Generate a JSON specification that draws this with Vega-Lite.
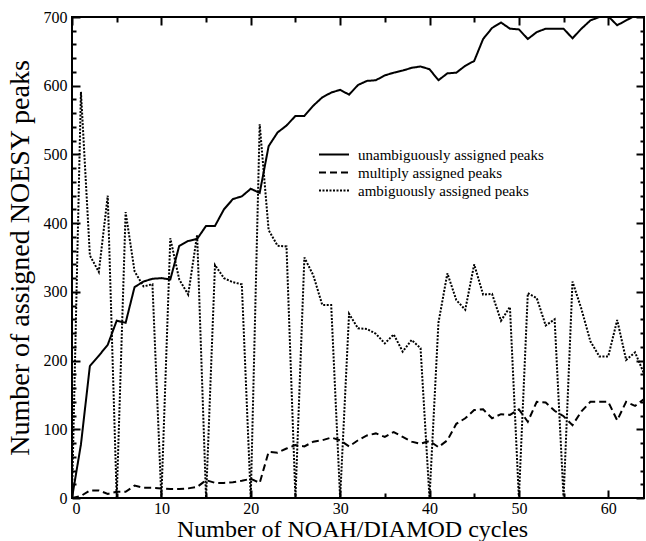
{
  "$schema": "https://vega.github.io/schema/vega-lite/v6.json",
  "width": 572,
  "height": 481,
  "autosize": {"type": "none"},
  "padding": {"left": 72, "top": 17, "right": 2, "bottom": 43},
  "background": "white",
  "config": {
    "view": {"stroke": "black", "strokeWidth": 2},
    "font": "Liberation Serif",
    "axis": {"grid": false, "domain": false, "tickColor": "black", "labelColor": "black", "titleColor": "black", "labelFont": "Liberation Serif", "titleFont": "Liberation Serif", "titleFontWeight": "normal", "labelFontSize": 16, "titleFontSize": 22}
  },
  "data": {"values": [
    {"cycle":0,"u":0,"m":0,"a":0},
    {"cycle":1,"u":78,"m":3,"a":591},
    {"cycle":2,"u":192,"m":11,"a":353},
    {"cycle":3,"u":207,"m":11,"a":329},
    {"cycle":4,"u":223,"m":6,"a":440},
    {"cycle":5,"u":258,"m":9,"a":0},
    {"cycle":6,"u":255,"m":9,"a":416},
    {"cycle":7,"u":307,"m":18,"a":330},
    {"cycle":8,"u":315,"m":15,"a":308},
    {"cycle":9,"u":319,"m":15,"a":311},
    {"cycle":10,"u":320,"m":14,"a":0},
    {"cycle":11,"u":318,"m":13,"a":378},
    {"cycle":12,"u":367,"m":13,"a":318},
    {"cycle":13,"u":374,"m":14,"a":296},
    {"cycle":14,"u":377,"m":16,"a":383},
    {"cycle":15,"u":396,"m":26,"a":0},
    {"cycle":16,"u":396,"m":22,"a":339},
    {"cycle":17,"u":420,"m":22,"a":320},
    {"cycle":18,"u":435,"m":23,"a":314},
    {"cycle":19,"u":439,"m":25,"a":311},
    {"cycle":20,"u":450,"m":28,"a":0},
    {"cycle":21,"u":444,"m":22,"a":544},
    {"cycle":22,"u":512,"m":67,"a":390},
    {"cycle":23,"u":532,"m":66,"a":367},
    {"cycle":24,"u":542,"m":72,"a":366},
    {"cycle":25,"u":556,"m":77,"a":0},
    {"cycle":26,"u":556,"m":75,"a":350},
    {"cycle":27,"u":571,"m":82,"a":324},
    {"cycle":28,"u":583,"m":84,"a":281},
    {"cycle":29,"u":590,"m":88,"a":281},
    {"cycle":30,"u":594,"m":84,"a":0},
    {"cycle":31,"u":587,"m":75,"a":268},
    {"cycle":32,"u":601,"m":84,"a":247},
    {"cycle":33,"u":607,"m":91,"a":246},
    {"cycle":34,"u":608,"m":94,"a":239},
    {"cycle":35,"u":615,"m":89,"a":225},
    {"cycle":36,"u":619,"m":96,"a":238},
    {"cycle":37,"u":622,"m":89,"a":213},
    {"cycle":38,"u":626,"m":82,"a":230},
    {"cycle":39,"u":628,"m":79,"a":218},
    {"cycle":40,"u":624,"m":83,"a":0},
    {"cycle":41,"u":608,"m":74,"a":255},
    {"cycle":42,"u":618,"m":84,"a":327},
    {"cycle":43,"u":619,"m":108,"a":288},
    {"cycle":44,"u":629,"m":116,"a":274},
    {"cycle":45,"u":636,"m":128,"a":340},
    {"cycle":46,"u":668,"m":129,"a":296},
    {"cycle":47,"u":684,"m":116,"a":297},
    {"cycle":48,"u":692,"m":122,"a":258},
    {"cycle":49,"u":683,"m":121,"a":278},
    {"cycle":50,"u":682,"m":129,"a":0},
    {"cycle":51,"u":668,"m":111,"a":298},
    {"cycle":52,"u":678,"m":140,"a":291},
    {"cycle":53,"u":683,"m":139,"a":251},
    {"cycle":54,"u":683,"m":127,"a":260},
    {"cycle":55,"u":683,"m":119,"a":0},
    {"cycle":56,"u":669,"m":106,"a":315},
    {"cycle":57,"u":683,"m":126,"a":275},
    {"cycle":58,"u":695,"m":140,"a":228},
    {"cycle":59,"u":700,"m":140,"a":206},
    {"cycle":60,"u":701,"m":140,"a":206},
    {"cycle":61,"u":688,"m":113,"a":259},
    {"cycle":62,"u":695,"m":140,"a":201},
    {"cycle":63,"u":702,"m":134,"a":212},
    {"cycle":64,"u":706,"m":144,"a":181}
  ]},
  "transform": [{"fold": ["u", "m", "a"], "as": ["type", "peaks"]}],
  "layer": [
    {
      "mark": {"type": "line", "color": "black", "clip": true},
      "encoding": {
        "x": {"field": "cycle", "type": "quantitative",
          "scale": {"domain": [0, 64], "nice": false, "zero": false},
          "axis": {"orient": "bottom", "title": "Number of NOAH/DIAMOD cycles", "titleFontSize": 24, "titleX": 280, "values": [0,5,10,15,20,25,30,35,40,45,50,55,60],
            "labelExpr": "datum.value % 10 === 0 ? datum.label : ''",
            "tickSize": {"condition": {"test": "datum.value % 10 === 0", "value": -8}, "value": -5},
            "tickWidth": 2, "labelPadding": 10, "titlePadding": 1}},
        "y": {"field": "peaks", "type": "quantitative",
          "scale": {"domain": [0, 700], "nice": false},
          "axis": {"orient": "left", "title": "Number of assigned NOESY peaks", "titleFontSize": 28, "values": [0,20,40,60,80,100,120,140,160,180,200,220,240,260,280,300,320,340,360,380,400,420,440,460,480,500,520,540,560,580,600,620,640,660,680,700],
            "labelExpr": "datum.value % 100 === 0 ? datum.label : ''",
            "tickSize": {"condition": {"test": "datum.value % 100 === 0", "value": -8}, "value": -4},
            "tickWidth": 2, "labelPadding": 13, "titlePadding": 9}},
        "strokeDash": {"field": "type", "type": "nominal",
          "scale": {"domain": ["u", "m", "a"], "range": [[1, 0], [7, 4], [2, 1.5]]},
          "legend": {"orient": "none", "legendX": 246, "legendY": 130, "title": null,
            "labelExpr": "datum.value === 'u' ? 'unambiguously assigned peaks' : datum.value === 'm' ? 'multiply assigned peaks' : 'ambiguously assigned peaks'",
            "symbolType": "stroke", "symbolSize": 900, "symbolStrokeWidth": 2, "symbolStrokeColor": "black",
            "clipHeight": 15, "rowPadding": 2,
            "labelFont": "Liberation Serif", "labelFontSize": 15, "labelColor": "black", "labelLimit": 400, "labelOffset": 8}},
        "strokeWidth": {"field": "type", "type": "nominal", "scale": {"domain": ["u", "m", "a"], "range": [2, 2, 1.4]}, "legend": null}
      }
    },
    {
      "mark": {"type": "line", "opacity": 0},
      "encoding": {
        "x": {"field": "cycle", "type": "quantitative",
          "scale": {"domain": [0, 64], "nice": false, "zero": false},
          "axis": {"orient": "top", "title": null, "labels": false, "values": [0,5,10,15,20,25,30,35,40,45,50,55,60],
            "tickSize": {"condition": {"test": "datum.value % 10 === 0", "value": -8}, "value": -5},
            "tickWidth": 2}},
        "y": {"field": "peaks", "type": "quantitative",
          "scale": {"domain": [0, 700], "nice": false},
          "axis": {"orient": "right", "title": null, "labels": false, "values": [0,20,40,60,80,100,120,140,160,180,200,220,240,260,280,300,320,340,360,380,400,420,440,460,480,500,520,540,560,580,600,620,640,660,680,700],
            "tickSize": {"condition": {"test": "datum.value % 100 === 0", "value": -8}, "value": -4},
            "tickWidth": 2}},
        "detail": {"field": "type"}
      }
    }
  ],
  "resolve": {"scale": {"x": "independent", "y": "independent"}, "axis": {"x": "independent", "y": "independent"}}
}
